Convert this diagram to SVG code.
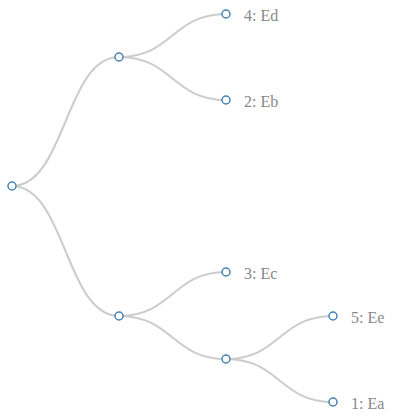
<svg xmlns="http://www.w3.org/2000/svg" width="397" height="419" viewBox="0 0 397 419">
<style>
.link{fill:none;stroke:#cccccc;stroke-width:2}
.node circle{fill:#ffffff;stroke:#4682b4;stroke-width:1.5}
.node text{font-family:"Liberation Serif","DejaVu Serif",serif;font-size:16px;fill:#888888;dominant-baseline:central}
</style>
<rect width="397" height="419" fill="#ffffff"/>
<g id="links">
<path class="link" d="M12,186 C65.5,186 65.5,57 119,57"/>
<path class="link" d="M12,186 C65.5,186 65.5,316 119,316"/>
<path class="link" d="M119,57 C172.5,57 172.5,14 226,14"/>
<path class="link" d="M119,57 C172.5,57 172.5,100 226,100"/>
<path class="link" d="M119,316 C172.5,316 172.5,272 226,272"/>
<path class="link" d="M119,316 C172.5,316 172.5,359 226,359"/>
<path class="link" d="M226,359 C279.5,359 279.5,316 333,316"/>
<path class="link" d="M226,359 C279.5,359 279.5,402 333,402"/>
</g>
<g id="root" class="node"><circle cx="12" cy="186" r="4"/></g>
<g id="n1" class="node"><circle cx="119" cy="57" r="4"/></g>
<g id="n2" class="node"><circle cx="119" cy="316" r="4"/></g>
<g id="n3" class="node"><circle cx="226" cy="359" r="4"/></g>
<g id="ed" class="node"><circle cx="226" cy="14" r="4"/><text x="244" y="15">4: Ed</text></g>
<g id="eb" class="node"><circle cx="226" cy="100" r="4"/><text x="244" y="101">2: Eb</text></g>
<g id="ec" class="node"><circle cx="226" cy="272" r="4"/><text x="244" y="273">3: Ec</text></g>
<g id="ee" class="node"><circle cx="333" cy="316" r="4"/><text x="351" y="317">5: Ee</text></g>
<g id="ea" class="node"><circle cx="333" cy="402" r="4"/><text x="351" y="403">1: Ea</text></g>
</svg>
